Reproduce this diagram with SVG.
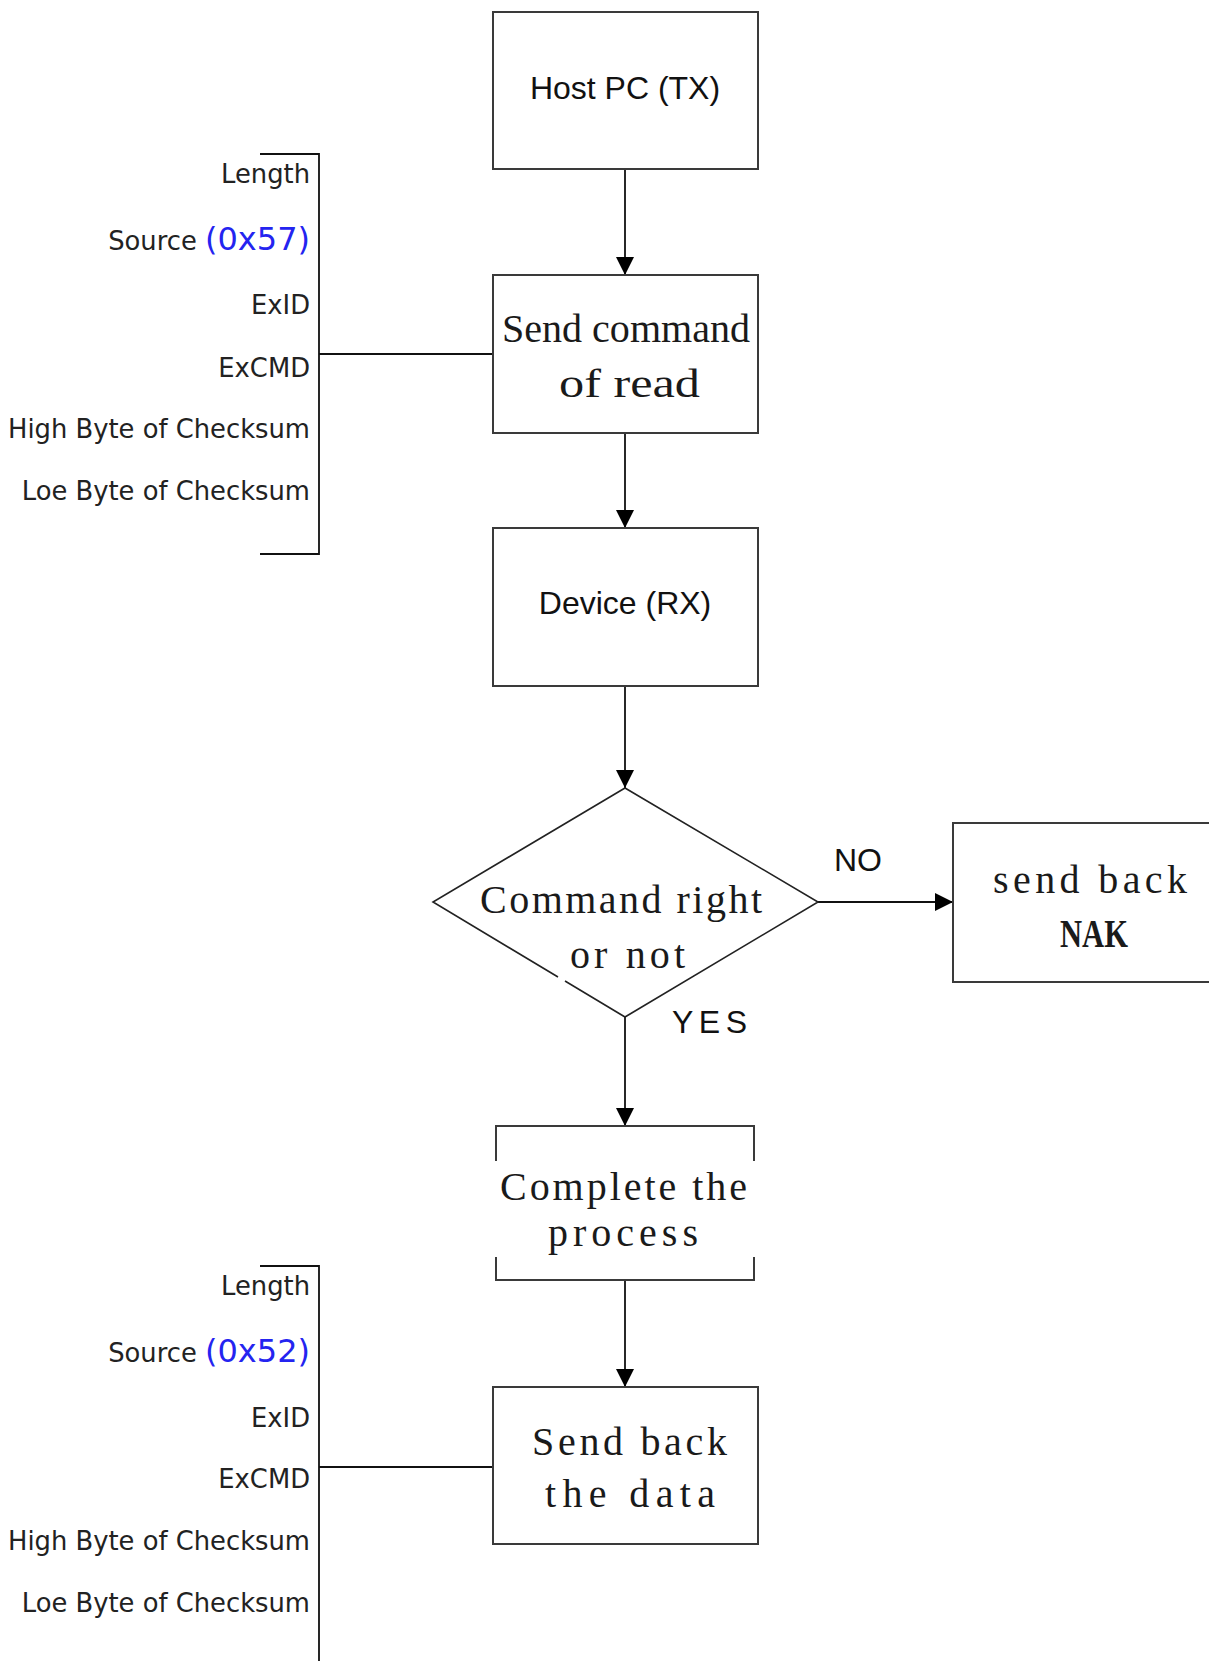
<svg xmlns="http://www.w3.org/2000/svg" width="1209" height="1661" viewBox="0 0 1209 1661">
<style>
.box{fill:#fff;stroke:#3a3a3a;stroke-width:2}
.ln{fill:none;stroke:#111;stroke-width:1.8}
.sans{font-family:"Liberation Sans",Arial,sans-serif;font-size:32px;fill:#111}
.serif{font-family:"Liberation Serif","Times New Roman",serif;font-size:40px;fill:#1a1a1a}
.lbl{font-family:"DejaVu Sans",Verdana,sans-serif;font-size:25.8px;fill:#222;text-anchor:end}
.hex{font-size:32px;fill:#2424f0}
</style>
<defs>
<marker id="ah" markerUnits="userSpaceOnUse" markerWidth="18" markerHeight="18" viewBox="0 0 18 18" refX="18" refY="9" orient="auto">
<path d="M0,0 L18,9 L0,18 Z" fill="#000"/>
</marker>
</defs>
<g id="connectors">
<path class="ln" d="M625,169 V275" marker-end="url(#ah)"/>
<path class="ln" d="M625,433 V528" marker-end="url(#ah)"/>
<path class="ln" d="M625,686 V788" marker-end="url(#ah)"/>
<path class="ln" d="M818,902 H953" marker-end="url(#ah)"/>
<path class="ln" d="M625,1017 V1126" marker-end="url(#ah)"/>
<path class="ln" d="M625,1280 V1387" marker-end="url(#ah)"/>
<path class="ln" d="M260,154 H319 V554 H260 M319,354 H493"/>
<path class="ln" d="M260,1266 H319 V1661 M319,1467 H493"/>
<text class="sans" x="834" y="871" font-size="33">NO</text>
<text class="sans" x="672" y="1033" textLength="75" lengthAdjust="spacing">YES</text>
</g>
<g id="fields1">
<text class="lbl" x="310" y="183">Length</text>
<text class="lbl" x="310" y="250">Source <tspan class="hex">(0x57)</tspan></text>
<text class="lbl" x="310" y="314">ExID</text>
<text class="lbl" x="310" y="377">ExCMD</text>
<text class="lbl" x="310" y="438">High Byte of Checksum</text>
<text class="lbl" x="310" y="500">Loe Byte of Checksum</text>
</g>
<g id="fields2">
<text class="lbl" x="310" y="1295">Length</text>
<text class="lbl" x="310" y="1362">Source <tspan class="hex">(0x52)</tspan></text>
<text class="lbl" x="310" y="1427">ExID</text>
<text class="lbl" x="310" y="1488">ExCMD</text>
<text class="lbl" x="310" y="1550">High Byte of Checksum</text>
<text class="lbl" x="310" y="1612">Loe Byte of Checksum</text>
</g>
<g id="host">
<rect class="box" x="493" y="12" width="265" height="157"/>
<text class="sans" x="625" y="99" text-anchor="middle">Host PC (TX)</text>
</g>
<g id="send-read">
<rect class="box" x="493" y="275" width="265" height="158"/>
<text class="serif" x="502" y="342" textLength="248" lengthAdjust="spacingAndGlyphs">Send command</text>
<text class="serif" x="559" y="397" textLength="141" lengthAdjust="spacingAndGlyphs">of read</text>
</g>
<g id="device">
<rect class="box" x="493" y="528" width="265" height="158"/>
<text class="sans" x="625" y="614" text-anchor="middle">Device (RX)</text>
</g>
<g id="decision">
<path d="M565,981 L625,1017 L818,902 L625,788 L433,902 L558,977" fill="#fff" stroke="#222" stroke-width="1.6"/>
<text class="serif" x="480" y="913" textLength="282" lengthAdjust="spacing">Command right</text>
<text class="serif" x="570" y="968" textLength="115" lengthAdjust="spacing">or not</text>
</g>
<g id="nak">
<rect class="box" x="953" y="823" width="270" height="159"/>
<text class="serif" x="993" y="893" textLength="194" lengthAdjust="spacing">send back</text>
<text class="serif" x="1060" y="947" font-weight="bold" textLength="68" lengthAdjust="spacingAndGlyphs" fill="#000">NAK</text>
</g>
<g id="complete">
<path d="M496,1161 V1126 H754 V1161 M496,1257 V1280 H754 V1257" fill="none" stroke="#3a3a3a" stroke-width="2"/>
<text class="serif" x="500" y="1200" textLength="247" lengthAdjust="spacing">Complete the</text>
<text class="serif" x="548" y="1246" textLength="150" lengthAdjust="spacing">process</text>
</g>
<g id="send-data">
<rect class="box" x="493" y="1387" width="265" height="157"/>
<text class="serif" x="532" y="1455" textLength="195" lengthAdjust="spacing">Send back</text>
<text class="serif" x="545" y="1507" textLength="170" lengthAdjust="spacing">the data</text>
</g>
</svg>
